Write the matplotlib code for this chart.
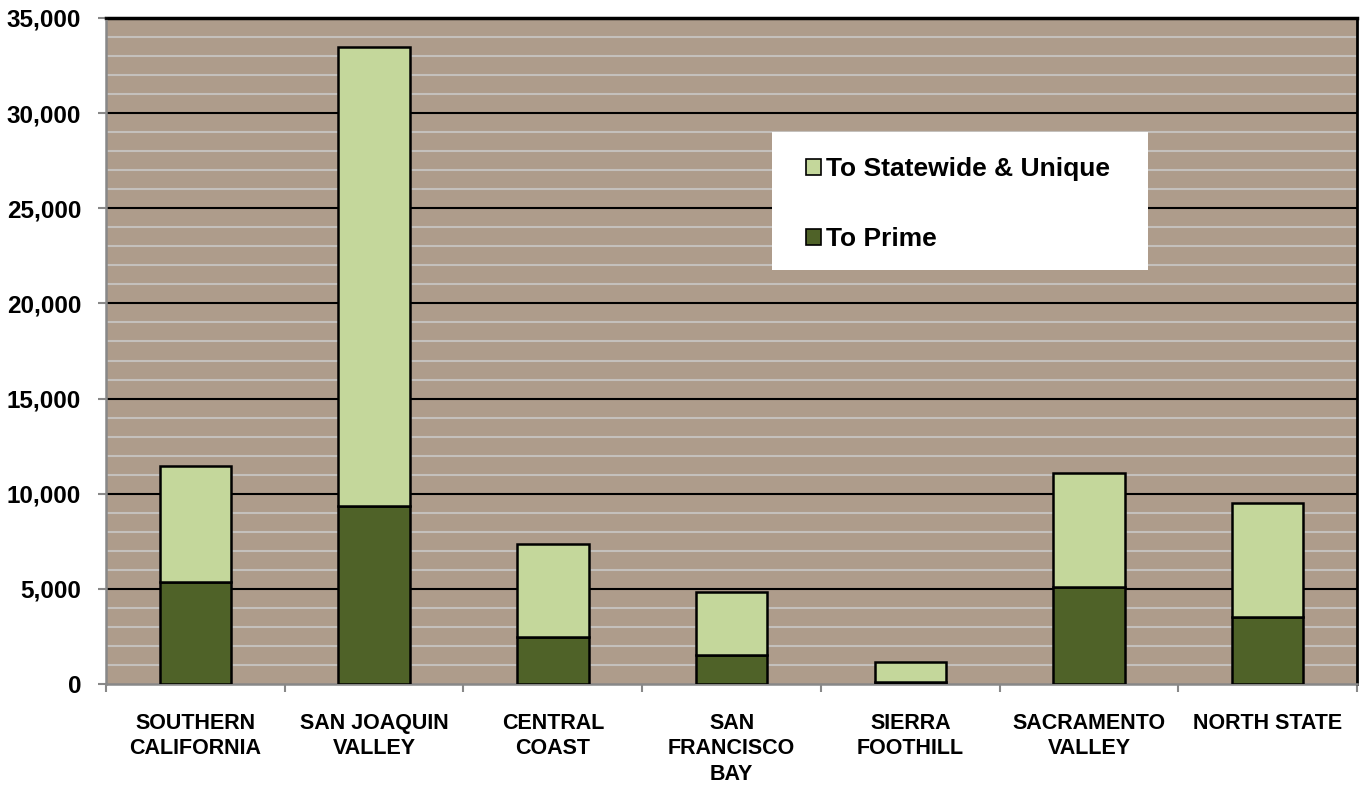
import matplotlib.pyplot as plt
from matplotlib.patches import Rectangle, Patch
import numpy as np

regions = ["SOUTHERN\nCALIFORNIA", "SAN JOAQUIN\nVALLEY", "CENTRAL\nCOAST",
           "SAN\nFRANCISCO\nBAY", "SIERRA\nFOOTHILL", "SACRAMENTO\nVALLEY",
           "NORTH STATE"]
to_prime = [5380, 9350, 2450, 1520, 80, 5110, 3500]
to_statewide = [6070, 24120, 4890, 3300, 1090, 5960, 6000]

y_ticks = list(range(0, 35001, 5000))

plt.rcParams['font.family'] = ['Liberation Sans', 'DejaVu Sans']

bg = "#ae9c8b"
light = "#c4d79b"
dark = "#4f6228"

fig = plt.figure(figsize=(13.65, 7.86), dpi=100)
ax = fig.add_axes([0.0777, 0.1298, 0.9165, 0.8473])
ax.set_facecolor(bg)

x = np.arange(len(regions))
ax.bar(x, to_prime, width=0.4, color=dark, edgecolor="black", linewidth=1.8, zorder=3)
ax.bar(x, to_statewide, width=0.4, bottom=to_prime, color=light,
       edgecolor="black", linewidth=1.8, zorder=3)

ax.set_xlim(-0.5, len(regions) - 0.5)
ax.set_ylim(0, 35000)

# gridlines: light minor every 1000, black major every 5000
for v in range(1000, 35000, 1000):
    if v % 5000:
        ax.axhline(v, color="#c4c0bc", lw=1.5, zorder=1)
    else:
        ax.axhline(v, color="black", lw=1.5, zorder=1)
ax.axhline(35000, color="black", lw=2.5, zorder=2, clip_on=False)

ax.set_yticks(y_ticks)
ax.set_yticklabels([f"{v:,}" for v in y_ticks], fontsize=17.5, fontweight="bold")
ax.tick_params(axis="y", length=6, width=1.5, color="#888888", direction="out", pad=12)

ax.set_xticks(np.arange(-0.5, len(regions), 1.0))
ax.set_xticklabels([])
ax.tick_params(axis="x", length=6, width=1.5, color="#888888", direction="out")
for i, r in enumerate(regions):
    ax.text(i, -1500, r, ha="center", va="top", fontsize=15.5, fontweight="bold",
            linespacing=1.3)

for s in ["left", "bottom"]:
    ax.spines[s].set_color("#888888")
    ax.spines[s].set_linewidth(1.8)
for s in ["top", "right"]:
    ax.spines[s].set_color("black")
    ax.spines[s].set_linewidth(2.0)

# legend box
ax.add_patch(Rectangle((0.532, 0.622), 0.301, 0.207, transform=ax.transAxes,
                       facecolor="white", edgecolor="none", zorder=4))
handles = [Patch(facecolor=light, edgecolor="black", lw=1.2, label="To Statewide & Unique"),
           Patch(facecolor=dark, edgecolor="black", lw=1.2, label="To Prime")]
leg = ax.legend(handles=handles, loc="upper left", bbox_to_anchor=(0.5596, 0.791),
                frameon=False, prop={"size": 19, "weight": "bold"},
                handlelength=0.57, handleheight=0.57, handletextpad=0.2,
                labelspacing=1.74, borderpad=0, borderaxespad=0)
leg.set_zorder(5)

plt.savefig("out.png", dpi=100)
